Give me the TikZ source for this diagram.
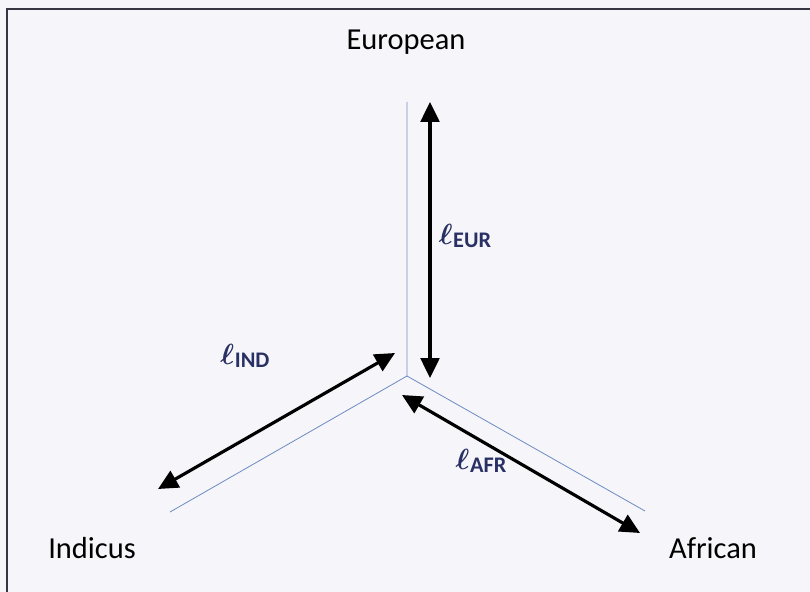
\documentclass[tikz,border=0pt]{standalone}
\usepackage{amsmath,amssymb}
\usepackage{fontspec}
\setmainfont{Carlito}
\usetikzlibrary{arrows.meta}
\definecolor{pagebg}{RGB}{246,246,250}
\definecolor{framegray}{RGB}{55,55,68}
\definecolor{branchblue}{RGB}{110,140,195}
\definecolor{lenblue}{RGB}{40,48,100}
\newcommand{\brlen}[1]{\raisebox{0.1ex}{\fontsize{36}{38}\selectfont$\boldsymbol{\ell}$}\kern0.05em\raisebox{-0.4ex}{\fontsize{19}{20}\selectfont\bfseries #1}}

\begin{document}
\begin{tikzpicture}[
  x=0.03cm,y=-0.03cm,
  tip/.style={font=\fontsize{26}{28}\selectfont,text=black},
  lenlbl/.style={text=lenblue,inner sep=0pt},
  branch/.style={draw=branchblue,line width=0.7pt},
  arr/.style={{Triangle[length=17pt,width=16pt]}-{Triangle[length=17pt,width=16pt]},line width=2.7pt}
]
\useasboundingbox (0,0) rectangle (810,592);
\fill[pagebg] (0,0) rectangle (810,592);
\draw[framegray,line width=2pt] (7,9) rectangle (830,612);

% tree
\coordinate (root) at (407,376);
\coordinate (eurend) at (407,102);
\coordinate (indend) at (170,512);
\coordinate (afrend) at (645,511);
\draw[branch] (eurend) -- (root) -- (indend);
\draw[branch] (root) -- (afrend);

% leaves
\node[tip] (eur) at (406,42) {European};
\node[tip] (ind) at (92,548) {Indicus};
\node[tip] (afr) at (713,548) {African};

% branch lengths
\coordinate (e1) at (430,102);
\coordinate (e2) at (430,378);
\coordinate (i1) at (395,353);
\coordinate (i2) at (158,489);
\coordinate (a1) at (402,395);
\coordinate (a2) at (640,533);
\draw[arr] (e1) -- (e2);
\draw[arr] (i1) -- (i2);
\draw[arr] (a1) -- (a2);
\node[lenlbl] (leur) at (465,236) {\brlen{EUR}};
\node[lenlbl] (lind) at (245,356) {\brlen{IND}};
\node[lenlbl] (lafr) at (481,461) {\brlen{AFR}};
\end{tikzpicture}
\end{document}
